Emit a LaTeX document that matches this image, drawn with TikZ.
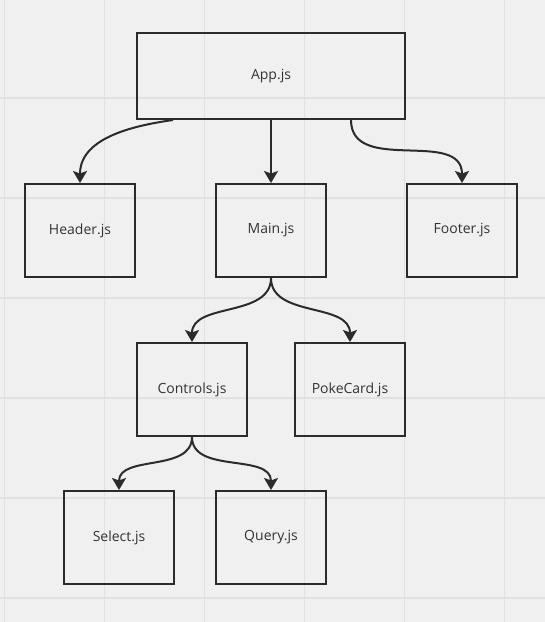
\documentclass[tikz,border=0pt]{standalone}
\usepackage{fontspec}
\setmainfont{Open Sans}
\usetikzlibrary{positioning,arrows.meta}
\definecolor{boardbg}{HTML}{F0F0F0}
\definecolor{gridcol}{HTML}{E1E1E1}
\definecolor{inkcol}{HTML}{2B2B2B}
\definecolor{textcol}{HTML}{333333}

\begin{document}
\begin{tikzpicture}[
x=1pt, y=1pt,
filenode/.style={rectangle, draw=inkcol, line width=2pt, minimum width=110pt, minimum height=93pt, inner sep=0pt, text=textcol, font=\fontsize{14pt}{17pt}\selectfont},
appnode/.style={filenode, minimum width=268pt, minimum height=86pt},
flowarrow/.style={draw=inkcol, line width=2pt, -{Stealth[length=12pt, width=14pt, inset=2.5pt]}},
gridline/.style={draw=gridcol, line width=1.2pt},
]
%Board
\fill[boardbg] (0,0) rectangle (545,-622);
\useasboundingbox (0,0) rectangle (545,-622);
\foreach \x in {4.5,104.5,...,504.5}
    \draw[gridline] (\x,0) -- (\x,-622);
\foreach \y in {98,198,...,598}
    \draw[gridline] (0,-\y) -- (545,-\y);
%Nodes
\node[appnode]   (App)      at (271,-76) {App.js};
\node[filenode]  (Main)     [below=63pt of App] {Main.js};
\node[filenode]  (Header)   [left=79pt of Main] {Header.js};
\node[filenode]  (Footer)   [right=79pt of Main] {Footer.js};
\node[filenode]  (Controls) [below=64pt of Main, xshift=-79pt] {Controls.js};
\node[filenode]  (PokeCard) [right=46pt of Controls] {PokeCard.js};
\node[filenode]  (Select)   [below=53pt of Controls, xshift=-73pt] {Select.js};
\node[filenode]  (Query)    [right=40pt of Select] {Query.js};
%Lines
\draw[flowarrow] ([xshift=37pt]App.south west) to[out=188, in=90] (Header.north);
\draw[flowarrow] (App.south) -- (Main.north);
\draw[flowarrow] ([xshift=-55pt]App.south east) to[out=-90, in=90, looseness=1.1] (Footer.north);
\draw[flowarrow] (Main.south) to[out=-90, in=90] (Controls.north);
\draw[flowarrow] (Main.south) to[out=-90, in=90] (PokeCard.north);
\draw[flowarrow] (Controls.south) to[out=-90, in=90] (Select.north);
\draw[flowarrow] (Controls.south) to[out=-90, in=90] (Query.north);
\end{tikzpicture}
\end{document}
